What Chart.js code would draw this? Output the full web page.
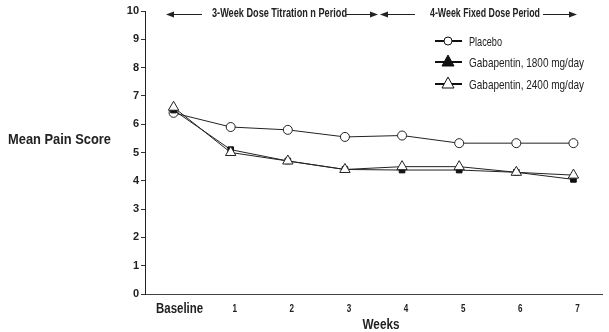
<!DOCTYPE html>
<html><head><meta charset="utf-8">
<script src="https://cdn.jsdelivr.net/npm/chart.js@4"></script>
<style>html,body{margin:0;padding:0;background:#fff}#c{display:block}</style>
</head><body>
<canvas id="c" width="609" height="332"></canvas>
<script>
const categories = ['Baseline','1','2','3','4','5','6','7'];
const placebo  = [6.4, 5.9, 5.8, 5.55, 5.6, 5.33, 5.33, 5.33];
const gaba1800 = [6.5, 5.1, 4.7, 4.4, 4.38, 4.38, 4.3, 4.05];
const gaba2400 = [6.6, 5.0, 4.7, 4.4, 4.5, 4.5, 4.3, 4.2];
const yTicks = [0,1,2,3,4,5,6,7,8,9,10];
const seriesNames = ['Placebo','Gabapentin, 1800 mg/day','Gabapentin, 2400 mg/day'];

const FONT = '"Liberation Sans",Arial,sans-serif';

function drawFit(c, text, x, y, w, align){
  const m = c.measureText(text).width;
  const s = w / m;
  c.save();
  c.textAlign = 'left';
  let x0 = x;
  if(align==='center') x0 = x - w/2;
  else if(align==='right') x0 = x - w;
  c.translate(x0, y); c.scale(s, 1);
  c.fillText(text, 0, 0);
  c.restore();
}

const annot = {
  id:'annot',
  afterDraw(chart){
    const c = chart.ctx;
    const xs = chart.scales.x;
    c.save();
    c.fillStyle = '#222'; c.strokeStyle = '#222'; c.lineWidth = 1;
    c.textBaseline = 'middle';
    // x tick labels
    categories.forEach((lab,i)=>{
      const px = xs.getPixelForTick(i);
      if(i===0){ c.font = 'bold 14px ' + FONT; drawFit(c, lab, px+6, 309, 47, 'center'); }
      else { c.font = 'bold 10px ' + FONT; drawFit(c, lab, px+4, 309, 4.5, 'center'); }
    });
    // y title
    c.font = 'bold 15px ' + FONT;
    drawFit(c, 'Mean Pain Score', 8, 140, 103, 'left');
    // x title
    c.font = 'bold 15px ' + FONT;
    drawFit(c, 'Weeks', 381, 325, 37, 'center');
    // top period annotations
    const y = 14;
    function head(x, dir){
      c.beginPath(); c.moveTo(x, y+0.5); c.lineTo(x - dir*8, y-2.5); c.lineTo(x - dir*8, y+3.5); c.closePath(); c.fill();
    }
    function line(x1,x2){ c.beginPath(); c.moveTo(x1,y+0.5); c.lineTo(x2,y+0.5); c.stroke(); }
    c.font = 'bold 12px ' + FONT;
    line(170,202); head(166,-1);
    drawFit(c, '3-Week Dose Titration n Period', 212, y, 135, 'left');
    line(346,373); head(378,1);
    line(385,415); head(380,-1);
    drawFit(c, '4-Week Fixed Dose Period', 430, y, 110, 'left');
    line(543,572); head(577,1);
    // legend
    const rows = [41,62,84];
    c.font = '13px ' + FONT;
    const widths = [33, 115, 115];
    rows.forEach((ry,i)=>{
      c.strokeStyle='#111'; c.lineWidth = 2;
      c.beginPath(); c.moveTo(435, ry); c.lineTo(462, ry); c.stroke();
      c.lineWidth = 1;
      c.fillStyle = i===1 ? '#111' : '#fff';
      c.strokeStyle = '#111';
      c.beginPath();
      if(i===0){ c.arc(448, ry, 4, 0, Math.PI*2); }
      else { c.moveTo(448, ry-7); c.lineTo(454, ry+4); c.lineTo(442, ry+4); c.closePath(); }
      c.fill(); c.stroke();
      c.fillStyle='#222';
      drawFit(c, seriesNames[i], 469, ry+1, widths[i], 'left');
    });
    c.restore();
  }
};

new Chart(document.getElementById('c'), {
  type:'line',
  data:{
    labels: categories,
    datasets:[
      {label:seriesNames[0], data:placebo, borderColor:'#222', borderWidth:1, pointStyle:'circle', pointRadius:4.5, pointBackgroundColor:'#fff', pointBorderColor:'#222', pointBorderWidth:1, tension:0, order:3},
      {label:seriesNames[1], data:gaba1800, borderColor:'#222', borderWidth:1, pointStyle:'rect', pointRadius:4, pointBackgroundColor:'#111', pointBorderColor:'#111', pointBorderWidth:1, tension:0, order:2},
      {label:seriesNames[2], data:gaba2400, borderColor:'#222', borderWidth:1, pointStyle:'triangle', pointRadius:6, pointBackgroundColor:'#fff', pointBorderColor:'#222', pointBorderWidth:1, tension:0, order:1}
    ]
  },
  options:{
    responsive:false, animation:false,
    layout:{padding:{top:11, right:3, left:0, bottom:0}},
    plugins:{legend:{display:false}, tooltip:{enabled:false}},
    scales:{
      x:{
        type:'category', offset:true,
        grid:{display:false, drawTicks:false},
        border:{display:true, color:'#444', width:1},
        ticks:{display:false},
        afterFit(s){ s.height = 38; }
      },
      y:{
        min:0, max:10,
        afterBuildTicks(s){ s.ticks = yTicks.map(v=>({value:v})); },
        grid:{drawOnChartArea:false, drawTicks:true, tickLength:4, color:'#333'},
        border:{display:true, color:'#222', width:1},
        ticks:{padding:2, color:'#222', font:{family:FONT, weight:'bold', size:11}},
        afterFit(s){ s.width = 145; }
      }
    }
  },
  plugins:[annot]
});
</script>
</body></html>
